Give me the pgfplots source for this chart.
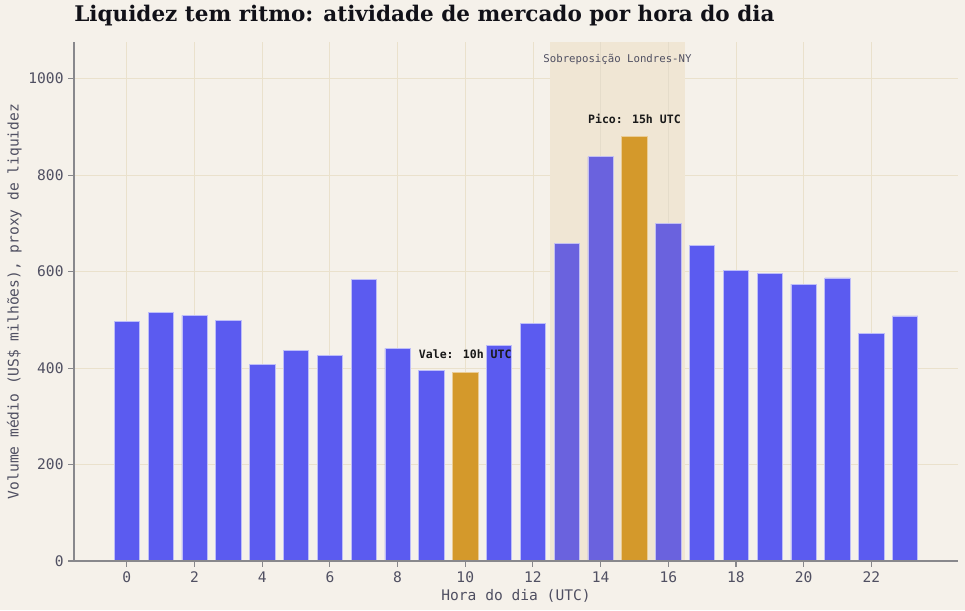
\documentclass[border=0pt]{standalone}
\usepackage{pgfplots}
\pgfplotsset{compat=1.18}
\usepackage{fontspec}
\setmainfont{DejaVu Sans Mono}
\newfontfamily\titlefont{DejaVu Serif}
\definecolor{bg}{RGB}{245,241,234}
\definecolor{spanc}{RGB}{240,230,212}
\definecolor{gridc}{RGB}{234,225,204}
\definecolor{barc}{RGB}{91,91,240}
\definecolor{barspan}{RGB}{106,98,222}
\definecolor{hl}{RGB}{212,153,43}
\definecolor{tickc}{RGB}{80,80,98}
\definecolor{axc}{RGB}{136,136,140}
\begin{document}
\begin{tikzpicture}
\path[use as bounding box, fill=bg] (-53.28pt,-35.28pt) rectangle (641.52pt,403.92pt);
\begin{axis}[
  scale only axis,
  width=636.48pt, height=373.68pt,
  at={(0,0)}, anchor=south west,
  xmin=-1.5625, xmax=24.5625,
  ymin=0, ymax=1076,
  axis lines*=left,
  axis line style={axc, line width=0.8pt},
  xtick={0,2,...,22},
  ytick={0,200,...,1000},
  tick style={axc, line width=0.8pt},
  tick align=outside,
  major tick length=4pt,
  grid=major,
  grid style={gridc, line width=0.6pt},
  ticklabel style={font=\fontsize{10.5}{12}\selectfont, text=tickc},
  /pgf/number format/assume math mode=true,
  /pgf/number format/1000 sep={},
  xlabel={Hora do dia (UTC)},
  ylabel={Volume médio (US\$ milhões), proxy de liquidez},
  label style={font=\fontsize{10.5}{12}\selectfont, text=tickc},
  xlabel style={yshift=2pt},
  ylabel style={yshift=-2pt},
  ybar, bar width=0.75, bar shift=0pt,
  clip=false,
]
\fill[spanc] (axis cs:12.5,0) rectangle (axis cs:16.5,1076);
\draw[gridc!90!black, line width=0.6pt, opacity=0.35] (axis cs:14,0) -- (axis cs:14,1076);
\draw[gridc!90!black, line width=0.6pt, opacity=0.35] (axis cs:16,0) -- (axis cs:16,1076);
\addplot[fill=barc, draw=barc!40!white, line width=0.5pt] coordinates {
(0,497) (1,516) (2,509) (3,499) (4,408) (5,436) (6,426) (7,583) (8,441) (9,395)
(11,447) (12,493) (17,654) (18,603) (19,596) (20,574) (21,587) (22,471) (23,508)};
\addplot[fill=barspan, draw=barspan!40!white, line width=0.5pt] coordinates {
(13,658) (14,838) (16,699)};
\addplot[fill=hl, draw=hl!50!white, line width=0.5pt] coordinates {
(10,391) (15,881)};
\draw[axc, line width=0.8pt] (axis cs:-1.5625,0) -- (axis cs:24.5625,0);
\node[font=\fontsize{7.7}{9}\selectfont, text=tickc] at (axis cs:14.5,1040) {Sobreposição Londres-NY};
\node[font=\bfseries\fontsize{8.3}{10}\selectfont, text=black!90] at (axis cs:15,917) {Pico: 15h UTC};
\node[font=\bfseries\fontsize{8.3}{10}\selectfont, text=black!90] at (axis cs:10,428) {Vale: 10h UTC};
\end{axis}
\node[anchor=base west, font=\titlefont\bfseries\fontsize{15.5}{19}\selectfont, text={rgb,255:red,17;green,17;blue,24}, inner sep=0pt] at (0pt,{403.92pt-22*0.72pt}) {Liquidez tem ritmo: atividade de mercado por hora do dia};
\end{tikzpicture}
\end{document}
